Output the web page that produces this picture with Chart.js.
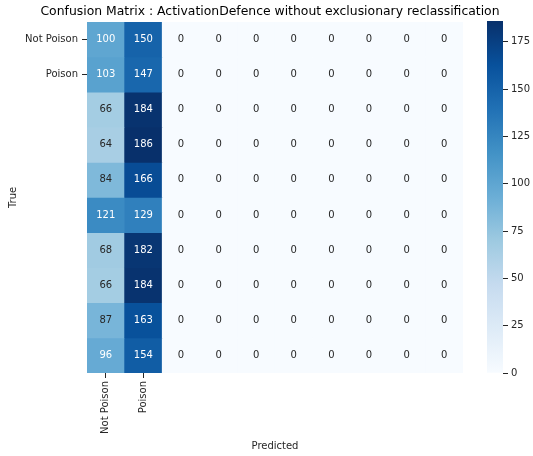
<!DOCTYPE html>
<html>
<head>
<meta charset="utf-8">
<script src="https://cdn.jsdelivr.net/npm/chart.js@4/dist/chart.umd.min.js"></script>
<style>
  html, body { margin: 0; padding: 0; background: #fff; overflow: hidden; }
  #wrap { position: relative; width: 533px; height: 456px; overflow: hidden; }
  #heat { position: absolute; left: 0; top: 0; }
  #cbar { position: absolute; left: 487px; top: 0; }
</style>
</head>
<body>
<div id="wrap">
  <canvas id="heat" width="540" height="456"></canvas>
  <canvas id="cbar" width="46" height="456"></canvas>
</div>
<script>
// Confusion matrix counts: rows = true class, columns = predicted class
const predictedLabels = ['Not Poison', 'Poison', '', '', '', '', '', '', '', ''];
const trueLabels = ['Not Poison', 'Poison', '', '', '', '', '', '', '', ''];
const counts = [
  [100, 150, 0, 0, 0, 0, 0, 0, 0, 0],
  [103, 147, 0, 0, 0, 0, 0, 0, 0, 0],
  [66, 184, 0, 0, 0, 0, 0, 0, 0, 0],
  [64, 186, 0, 0, 0, 0, 0, 0, 0, 0],
  [84, 166, 0, 0, 0, 0, 0, 0, 0, 0],
  [121, 129, 0, 0, 0, 0, 0, 0, 0, 0],
  [68, 182, 0, 0, 0, 0, 0, 0, 0, 0],
  [66, 184, 0, 0, 0, 0, 0, 0, 0, 0],
  [87, 163, 0, 0, 0, 0, 0, 0, 0, 0],
  [96, 154, 0, 0, 0, 0, 0, 0, 0, 0]
];
const colorbarTicks = [0, 25, 50, 75, 100, 125, 150, 175];

const FONT = "'DejaVu Sans', sans-serif";
const TEXT = '#262626';

// "Blues" colormap stops
const blues = ['#f7fbff', '#deebf7', '#c6dbef', '#9ecae1', '#6baed6', '#4292c6', '#2171b5', '#08519c', '#08306b'];
const vmin = 0;
const vmax = Math.max(...counts.flat());

function hexToRgb(h) {
  return [parseInt(h.slice(1, 3), 16), parseInt(h.slice(3, 5), 16), parseInt(h.slice(5, 7), 16)];
}
const bluesRgb = blues.map(hexToRgb);

function colorRgb(v) {
  let t = (v - vmin) / (vmax - vmin);
  t = Math.min(1, Math.max(0, t));
  const pos = t * (bluesRgb.length - 1);
  const i = Math.min(bluesRgb.length - 2, Math.floor(pos));
  const f = pos - i;
  const a = bluesRgb[i], b = bluesRgb[i + 1];
  return [0, 1, 2].map(k => Math.round(a[k] + (b[k] - a[k]) * f));
}
function colorFor(v) {
  const c = colorRgb(v);
  return `rgb(${c[0]},${c[1]},${c[2]})`;
}
// relative luminance decides light or dark annotation text
function textColorFor(v) {
  const c = colorRgb(v).map(x => {
    x /= 255;
    return x <= 0.03928 ? x / 12.92 : Math.pow((x + 0.055) / 1.055, 2.4);
  });
  const lum = 0.2126 * c[0] + 0.7152 * c[1] + 0.0722 * c[2];
  return lum > 0.408 ? TEXT : '#ffffff';
}

const datasets = counts.map((row, r) => ({
  label: trueLabels[r],
  data: row.map(() => [r, r + 1]),
  counts: row,
  yAxisID: 'y',
  xAxisID: 'x',
  backgroundColor: row.map(colorFor),
  borderWidth: 0,
  grouped: false,
  barPercentage: 1,
  categoryPercentage: 1
}));

const cellText = {
  id: 'cellText',
  afterDatasetsDraw(chart) {
    const ctx = chart.ctx;
    ctx.save();
    ctx.font = '10px ' + FONT;
    ctx.textAlign = 'center';
    ctx.textBaseline = 'middle';
    chart.data.datasets.forEach((ds, di) => {
      const meta = chart.getDatasetMeta(di);
      meta.data.forEach((el, i) => {
        const v = ds.counts[i];
        const p = el.getCenterPoint();
        ctx.fillStyle = textColorFor(v);
        ctx.fillText(String(v), p.x, p.y);
      });
    });
    ctx.restore();
  }
};

new Chart(document.getElementById('heat'), {
  type: 'bar',
  data: { labels: predictedLabels, datasets },
  options: {
    responsive: false,
    animation: false,
    layout: { padding: { right: 0, left: 0, bottom: 0, top: 0 } },
    plugins: {
      legend: { display: false },
      tooltip: { enabled: false },
      title: {
        display: true,
        text: 'Confusion Matrix : ActivationDefence without exclusionary reclassification',
        color: '#000',
        font: { family: FONT, size: 12.4, weight: 'normal' },
        padding: { top: 4, bottom: 3 }
      }
    },
    scales: {
      x: {
        type: 'category',
        border: { display: false },
        grid: {
          offset: false,
          drawOnChartArea: false,
          tickLength: 5,
          tickColor: ctx => (predictedLabels[ctx.index] ? TEXT : 'rgba(0,0,0,0)')
        },
        ticks: {
          color: TEXT,
          font: { family: FONT, size: 10 },
          maxRotation: 90,
          minRotation: 90,
          autoSkip: false,
          padding: 3
        },
        title: {
          display: true,
          text: 'Predicted',
          color: TEXT,
          font: { family: FONT, size: 10 },
          padding: { top: 0, bottom: 4 }
        },
        afterFit(scale) { scale.height = 83; }
      },
      y: {
        type: 'linear',
        reverse: true,
        min: 0,
        max: 10,
        border: { display: false },
        grid: { drawOnChartArea: false, tickLength: 5, tickColor: TEXT },
        afterBuildTicks(scale) {
          scale.ticks = trueLabels
            .map((l, i) => ({ value: i + 0.5, label: l }))
            .filter(t => t.label);
        },
        ticks: {
          color: TEXT,
          font: { family: FONT, size: 10 },
          padding: 4,
          callback: (v) => trueLabels[Math.floor(v)]
        },
        title: {
          display: true,
          text: 'True',
          color: TEXT,
          font: { family: FONT, size: 10 },
          padding: { top: 7, bottom: 0 }
        },
        afterFit(scale) { scale.width = 87; }
      },
      // empty right-hand strip that leaves room for the colour bar
      gutter: {
        type: 'linear',
        axis: 'y',
        position: 'right',
        display: true,
        border: { display: false },
        grid: { display: false },
        ticks: { display: false },
        afterFit(scale) { scale.width = 77; }
      }
    }
  },
  plugins: [cellText]
});

// Colour bar: one floating bar filled with the colormap gradient
new Chart(document.getElementById('cbar'), {
  type: 'bar',
  data: {
    labels: [''],
    datasets: [{
      data: [[vmin, vmax]],
      borderWidth: 0,
      barPercentage: 1,
      categoryPercentage: 1,
      backgroundColor: (ctx) => {
        const chart = ctx.chart;
        const ys = chart.scales.y;
        if (!ys || !chart.chartArea) return blues[0];
        const g = chart.ctx.createLinearGradient(0, ys.getPixelForValue(vmin), 0, ys.getPixelForValue(vmax));
        blues.forEach((c, i) => g.addColorStop(i / (blues.length - 1), c));
        return g;
      }
    }]
  },
  options: {
    responsive: false,
    animation: false,
    layout: { padding: { top: 21, bottom: 83, left: 0, right: 0 } },
    plugins: { legend: { display: false }, tooltip: { enabled: false } },
    scales: {
      x: { display: false },
      y: {
        position: 'right',
        min: vmin,
        max: vmax,
        border: { display: false },
        grid: { drawOnChartArea: false, tickLength: 5, tickColor: TEXT },
        afterBuildTicks(scale) {
          scale.ticks = colorbarTicks.map(v => ({ value: v }));
        },
        ticks: {
          color: TEXT,
          font: { family: FONT, size: 10 },
          padding: 3
        },
        afterFit(scale) { scale.width = 30; }
      }
    }
  }
});
</script>
</body>
</html>
